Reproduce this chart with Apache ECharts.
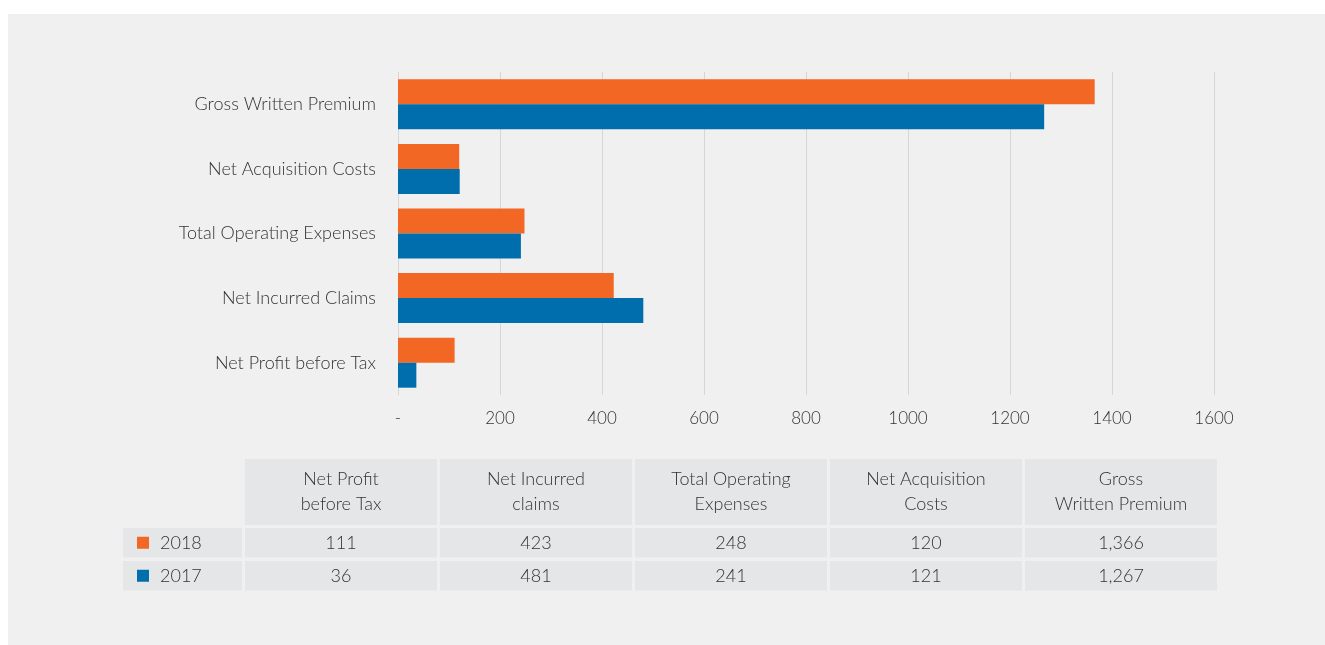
<!DOCTYPE html>
<html>
<head>
<meta charset="utf-8">
<script src="https://cdn.jsdelivr.net/npm/echarts@6/dist/echarts.min.js"></script>
<style>
html,body{margin:0;padding:0;background:#fff;width:1325px;height:645px;overflow:hidden;}
#panel{position:absolute;left:8px;top:14px;width:1317px;height:631px;background:#f0f0f0;}
#chart{position:absolute;left:0;top:0;width:1325px;height:645px;}
</style>
</head>
<body>
<div id="panel"></div>
<div id="chart"></div>
<script>
const categories = ['Net Profit before Tax','Net Incurred Claims','Total Operating Expenses','Net Acquisition Costs','Gross Written Premium'];
const tableHeaders = ['Net Profit\nbefore Tax','Net Incurred\nclaims','Total Operating\nExpenses','Net Acquisition\nCosts','Gross\nWritten Premium'];
const years = ['2018','2017'];
const values2018 = [111, 423, 248, 120, 1366];
const values2017 = [36, 481, 241, 121, 1267];
const axisTicks = [0,200,400,600,800,1000,1200,1400,1600];

const ORANGE = '#F26724';
const BLUE = '#006DAD';
const FONT = 'Lato';
const TXT = '#333333';
const CELL = '#e5e6e8';

const chart = echarts.init(document.getElementById('chart'), null, {renderer:'canvas'});

function fmt(v){ return v.toLocaleString('en-US'); }

const g = [];
const colX0 = 245, colPitch = 195, colW = 192;
const headY = 459, headH = 66;
const rowYs = [528, 561], rowH = 29.5;
tableHeaders.forEach((h,i)=>{
  const x = colX0 + i*colPitch;
  g.push({type:'rect', shape:{x:x,y:headY,width:colW,height:headH}, style:{fill:CELL}, silent:true});
  g.push({type:'text', x:x+colW/2, y:headY+headH/2, style:{text:h, fontFamily:FONT, fontWeight:300, fontSize:18, lineHeight:25, fill:TXT, align:'center', verticalAlign:'middle'}, silent:true});
});
const rows = [values2018, values2017];
const colors = [ORANGE, BLUE];
rows.forEach((vals,r)=>{
  const y = rowYs[r];
  g.push({type:'rect', shape:{x:123,y:y,width:119,height:rowH}, style:{fill:CELL}, silent:true});
  g.push({type:'rect', shape:{x:137,y:y+rowH/2-6,width:12,height:12}, style:{fill:colors[r]}, silent:true});
  g.push({type:'text', x:160, y:y+rowH/2, style:{text:years[r], fontFamily:FONT, fontWeight:300, fontSize:18, fill:TXT, align:'left', verticalAlign:'middle'}, silent:true});
  vals.forEach((v,i)=>{
    const x = colX0 + i*colPitch;
    g.push({type:'rect', shape:{x:x,y:y,width:colW,height:rowH}, style:{fill:CELL}, silent:true});
    g.push({type:'text', x:x+colW/2, y:y+rowH/2, style:{text:fmt(v), fontFamily:FONT, fontWeight:300, fontSize:18, fill:TXT, align:'center', verticalAlign:'middle'}, silent:true});
  });
});

chart.setOption({
  backgroundColor:'transparent',
  animation:false,
  grid:{left:398, right:111, top:72, bottom:250, containLabel:false},
  xAxis:{
    type:'value', min:axisTicks[0], max:axisTicks[axisTicks.length-1], interval:axisTicks[1]-axisTicks[0],
    axisLine:{show:false}, axisTick:{show:false},
    splitLine:{show:true, lineStyle:{color:'#d6d6d6', width:1}},
    axisLabel:{formatter:v=> v===0?'-':String(v), fontFamily:FONT, fontWeight:300, fontSize:17, color:TXT, margin:15}
  },
  yAxis:{
    type:'category', data:categories,
    axisLine:{show:true, lineStyle:{color:'#d6d6d6', width:1}},
    axisTick:{show:false},
    axisLabel:{fontFamily:FONT, fontWeight:300, fontSize:18, color:TXT, margin:22}
  },
  series:[
    {name:'2018', type:'bar', data:values2018, barWidth:25, barGap:'0%', itemStyle:{color:ORANGE}},
    {name:'2017', type:'bar', data:values2017, barWidth:25, barGap:'0%', itemStyle:{color:BLUE}}
  ],
  graphic:g
});
</script>
</body>
</html>
